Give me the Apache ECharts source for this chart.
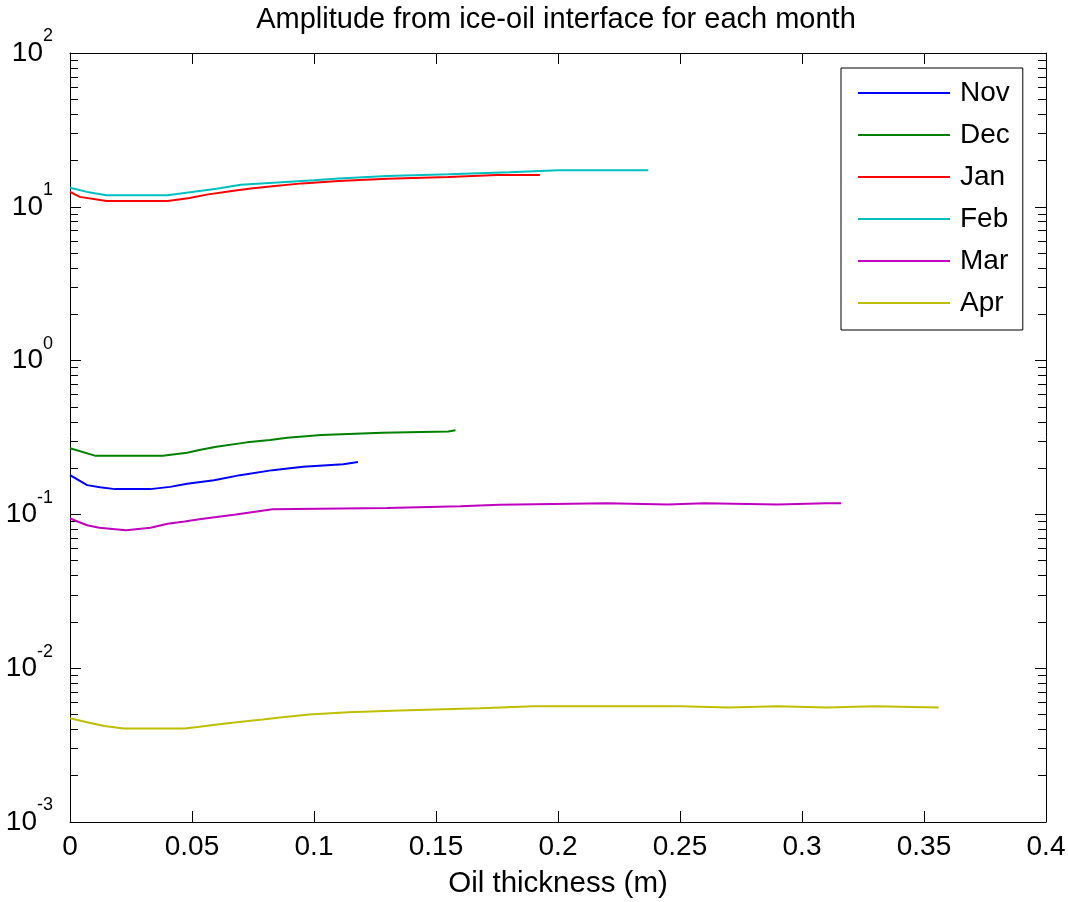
<!DOCTYPE html>
<html>
<head>
<meta charset="utf-8">
<style>
 html, body{
 	margin: 0;
 	padding: 0;
 	background: #fff;
 }
 #chart{
 	width: 1068px;
 	height: 902px;
 }
</style>
</head>
<body>
<div id="chart"></div>
<script src="https://cdn.jsdelivr.net/npm/echarts@6/dist/echarts.min.js" type="text/javascript" charset="utf-8"></script>
<script type="text/javascript">
	// 各月数据 (油厚 m, 振幅)
	var months = ['Nov', 'Dec', 'Jan', 'Feb', 'Mar', 'Apr'];
	var colors = ['#0000ff', '#008000', '#ff0000', '#00bfbf', '#bf00bf', '#bfbf00'];

	var novX = [0, 0.007, 0.0123, 0.0184, 0.0328, 0.041, 0.048, 0.059, 0.0697, 0.083, 0.0955, 0.112, 0.118];
	var novY = [0.180, 0.155, 0.150, 0.146, 0.146, 0.151, 0.158, 0.167, 0.180, 0.194, 0.204, 0.212, 0.219];

	var decX = [0, 0.0102, 0.038, 0.048, 0.053, 0.060, 0.0725, 0.082, 0.089, 0.103, 0.128, 0.155, 0.158];
	var decY = [0.269, 0.241, 0.241, 0.252, 0.262, 0.275, 0.294, 0.305, 0.315, 0.328, 0.340, 0.346, 0.352];

	var janX = [0, 0.004, 0.015, 0.04, 0.049, 0.056, 0.067, 0.075, 0.083, 0.095, 0.11, 0.13, 0.155, 0.175, 0.1926];
	var janY = [12.5, 11.6, 10.9, 10.9, 11.4, 12.0, 12.7, 13.2, 13.6, 14.2, 14.7, 15.2, 15.6, 16.1, 16.1];

	var febX = [0, 0.007, 0.015, 0.04, 0.05, 0.06, 0.07, 0.085, 0.1, 0.11, 0.13, 0.155, 0.18, 0.2, 0.237];
	var febY = [13.3, 12.5, 11.9, 11.9, 12.5, 13.1, 13.9, 14.4, 14.9, 15.3, 15.85, 16.3, 16.8, 17.3, 17.3];

	var marX = [0, 0.007, 0.012, 0.023, 0.033, 0.04, 0.047, 0.053, 0.068, 0.083, 0.13, 0.16, 0.176, 0.22, 0.245, 0.26, 0.29, 0.31, 0.316];
	var marY = [0.094, 0.085, 0.082, 0.079, 0.082, 0.087, 0.090, 0.093, 0.100, 0.108, 0.110, 0.113, 0.1156, 0.118, 0.116, 0.118, 0.116, 0.118, 0.118];

	var aprX = [0, 0.007, 0.014, 0.022, 0.047, 0.053, 0.062, 0.071, 0.079, 0.087, 0.098, 0.114, 0.135, 0.168, 0.19, 0.25, 0.27, 0.29, 0.31, 0.33, 0.356];
	var aprY = [0.00472, 0.00445, 0.00421, 0.00406, 0.00406, 0.00416, 0.00434, 0.0045, 0.00464, 0.0048, 0.005, 0.00517, 0.00531, 0.00549, 0.00566, 0.00566, 0.00556, 0.00566, 0.00556, 0.00566, 0.00556];

	var allX = [novX, decX, janX, febX, marX, aprX];
	var allY = [novY, decY, janY, febY, marY, aprY];

	var font = '"Liberation Sans", Arial, sans-serif';

	// 对数轴的次刻度 (2..9 × 10^n), 画在线性的辅助轴上
	var minorTicks = [];
	for (var n = -3; n < 2; n++) {
		for (var k = 2; k < 10; k++) {
			minorTicks.push(n + Math.log10(k));
		}
	}

	function pairs(xs, ys) {
		var out = [];
		for (var i = 0; i < xs.length; i++) out.push([xs[i], ys[i]]);
		return out;
	}

	var series = months.map(function (m, i) {
		return {
			name: m,
			type: 'line',
			xAxisIndex: 0,
			yAxisIndex: 0,
			symbol: 'none',
			color: colors[i],
			lineStyle: {width: 2, color: colors[i]},
			data: pairs(allX[i], allY[i])
		};
	});

	var rect = {left: 70, top: 53, width: 976, height: 769, containLabel: false, outerBoundsMode: 'none'};
	var black = {color: '#000', width: 1};

	var xBase = {
		type: 'value',
		gridIndex: 0,
		min: 0,
		max: 0.4,
		interval: 0.05,
		axisLine: {show: true, onZero: false, lineStyle: black},
		axisTick: {show: true, inside: true, length: 11, lineStyle: black},
		splitLine: {show: false}
	};

	var logBase = {
		type: 'log',
		logBase: 10,
		gridIndex: 0,
		min: 0.001,
		max: 100,
		axisLine: {show: true, onZero: false, lineStyle: black},
		axisTick: {show: true, inside: true, length: 11, lineStyle: black},
		splitLine: {show: false}
	};

	var minorBase = {
		type: 'value',
		min: -3,
		max: 2,
		axisLine: {show: false, onZero: false},
		axisTick: {show: true, inside: true, length: 8, customValues: minorTicks, lineStyle: black},
		splitLine: {show: false},
		axisLabel: {show: false}
	};

	var hiddenX = {type: 'value', min: 0, max: 1, show: false, axisLine: {onZero: false}};

	var options = {
		animation: false,
		backgroundColor: '#fff',
		title: {
			text: 'Amplitude from ice-oil interface for each month',
			left: 556,
			textAlign: 'center',
			top: 5,
			padding: 0,
			textStyle: {fontFamily: font, fontSize: 29, fontWeight: 'normal', color: '#000'}
		},
		legend: {
			data: months,
			orient: 'vertical',
			left: 841,
			top: 68,
			padding: [11, 13, 13, 17],
			itemGap: 14,
			itemWidth: 92,
			itemHeight: 2,
			icon: 'rect',
			backgroundColor: '#fff',
			borderColor: '#000',
			borderWidth: 1,
			borderRadius: 0,
			textStyle: {fontFamily: font, fontSize: 28, lineHeight: 28, color: '#000', padding: [0, 0, 0, 5]}
		},
		grid: [rect, Object.assign({}, rect), Object.assign({}, rect)],
		xAxis: [
			Object.assign({}, xBase, {
				position: 'bottom',
				name: 'Oil thickness (m)',
				nameLocation: 'middle',
				nameGap: 47,
				nameMoveOverlap: false,
				nameTextStyle: {fontFamily: font, fontSize: 29.5, color: '#000'},
				axisLabel: {
					show: true, margin: 11, showMinLabel: true, showMaxLabel: true,
					fontFamily: font, fontSize: 28, color: '#000'
				}
			}),
			Object.assign({}, xBase, {
				position: 'top',
				axisLabel: {show: false}
			}),
			Object.assign({gridIndex: 1}, hiddenX),
			Object.assign({gridIndex: 2}, hiddenX)
		],
		yAxis: [
			Object.assign({}, logBase, {
				position: 'left',
				axisLabel: {
					show: true,
					margin: 17,
					showMinLabel: true,
					showMaxLabel: true,
					formatter: function (v) {
						return '{b|10}{s|' + Math.round(Math.log10(v)) + '}';
					},
					rich: {
						b: {fontFamily: font, fontSize: 28, lineHeight: 28, color: '#000', verticalAlign: 'middle'},
						s: {fontFamily: font, fontSize: 18, lineHeight: 18, color: '#000', verticalAlign: 'middle', padding: [0, 0, 33, 0]}
					}
				}
			}),
			Object.assign({}, logBase, {
				position: 'right',
				axisLabel: {show: false}
			}),
			Object.assign({gridIndex: 1, position: 'left'}, minorBase),
			Object.assign({gridIndex: 2, position: 'right'}, minorBase)
		],
		series: series
	};

	//初始化echarts实例
	var myChart = echarts.init(document.getElementById('chart'));
	myChart.setOption(options);
</script>
</body>
</html>
